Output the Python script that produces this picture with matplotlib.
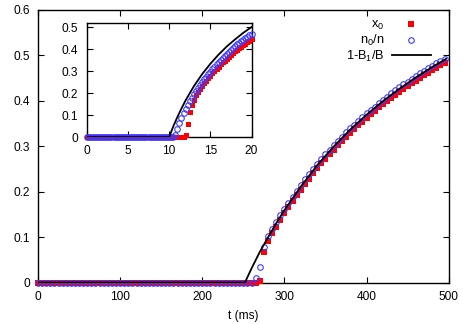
#!/usr/bin/env python3
"""
Order parameter x0, condensate fraction n0/n and 1-B1/B versus time, with an inset.
"""

import matplotlib
matplotlib.use("Agg")
import matplotlib.pyplot as plt
from matplotlib.ticker import FuncFormatter

# ---- main panel data (t in ms, step 5) ----
t_main = list(range(0, 500, 5))

x0_main = [0.0] * 54 + [
    0.004, 0.068,
    0.092, 0.108, 0.123, 0.138, 0.152, 0.166, 0.179, 0.192, 0.204, 0.217,
    0.228, 0.240, 0.251, 0.262, 0.272, 0.282, 0.292, 0.302, 0.311, 0.320,
    0.329, 0.337, 0.346, 0.354, 0.362, 0.370, 0.377, 0.385, 0.392, 0.399,
    0.406, 0.413, 0.419, 0.426, 0.432, 0.438, 0.444, 0.450, 0.456, 0.461,
    0.467, 0.472, 0.478, 0.483,
]

n0n_main = [0.0] * 53 + [
    0.010, 0.035, 0.078,
    0.102, 0.118, 0.133, 0.148, 0.162, 0.176, 0.189, 0.202, 0.215, 0.227,
    0.238, 0.250, 0.261, 0.272, 0.282, 0.292, 0.302, 0.312, 0.321, 0.330,
    0.339, 0.347, 0.356, 0.364, 0.372, 0.380, 0.387, 0.395, 0.402, 0.409,
    0.416, 0.423, 0.429, 0.436, 0.442, 0.448, 0.454, 0.460, 0.466, 0.471,
    0.477, 0.482, 0.487, 0.491,
]

t_line = [0, 252, 260, 270, 280, 290, 300, 320, 340, 360, 380, 400, 420,
          440, 460, 480, 497]
b_line = [0.0, 0.0, 0.031, 0.067, 0.099, 0.130, 0.159, 0.211, 0.258, 0.299,
          0.336, 0.369, 0.399, 0.426, 0.451, 0.474, 0.492]

# ---- inset data (step 0.25) ----
t_ins = [i * 0.25 for i in range(81)]

x0_ins = [0.0] * 48 + [
    0.010, 0.060, 0.112, 0.145, 0.170, 0.190, 0.206, 0.220, 0.233, 0.245,
    0.257, 0.268, 0.279, 0.290, 0.300, 0.310, 0.320, 0.330, 0.339, 0.348,
    0.357, 0.365, 0.373, 0.381, 0.389, 0.397, 0.404, 0.411, 0.418, 0.425,
    0.432, 0.438, 0.444,
]

n0n_ins = [0.0] * 43 + [
    0.008, 0.035, 0.065, 0.088, 0.108, 0.128, 0.147, 0.163, 0.179, 0.194,
    0.208, 0.222, 0.236, 0.249, 0.262, 0.274, 0.286, 0.298, 0.309, 0.320,
    0.331, 0.341, 0.351, 0.361, 0.370, 0.379, 0.388, 0.397, 0.405, 0.413,
    0.421, 0.429, 0.436, 0.443, 0.450, 0.457, 0.463, 0.469,
]

t_line_ins = [0, 10, 10.5, 11, 11.5, 12, 13, 14, 15, 16, 17, 18, 19, 20]
b_line_ins = [0.0, 0.0, 0.048, 0.091, 0.130, 0.167, 0.231, 0.286, 0.333,
              0.375, 0.412, 0.444, 0.474, 0.500]

RED = "#ff0000"
BLUE = "#3a3aff"
FS = 8.6


def fmt(v, pos):
    return "0" if abs(v) < 1e-9 else f"{v:g}"


def style(ax):
    ax.tick_params(direction="in", top=True, right=True, length=4,
                   width=0.8, labelsize=FS, pad=6)
    for s in ax.spines.values():
        s.set_linewidth(1.0)
    ax.yaxis.set_major_formatter(FuncFormatter(fmt))


def draw(ax, t, x0, n0n, tl, bl, ms_sq, ms_c):
    ax.plot(t, x0, "s", color=RED, ms=ms_sq, mew=0, clip_on=False,
            label="x$_0$", zorder=3)
    ax.plot(t, n0n, "o", mfc="none", mec=BLUE, ms=ms_c, mew=0.8,
            clip_on=False, label="n$_0$/n", zorder=4)
    ax.plot(tl, bl, "-", color="black", lw=1.3, label="1-B$_1$/B", zorder=5)


def main():
    plt.rcParams["font.family"] = ["Liberation Sans", "DejaVu Sans"]
    plt.rcParams["mathtext.fontset"] = "custom"
    plt.rcParams["mathtext.rm"] = "Liberation Sans"
    plt.rcParams["mathtext.it"] = "Liberation Sans"

    fig = plt.figure(figsize=(4.63, 3.24), dpi=100)
    ax = fig.add_axes([0.082, 0.128, 0.887, 0.842])
    draw(ax, t_main, x0_main, n0n_main, t_line, b_line, 4.0, 4.0)
    ax.set_xlim(0, 500)
    ax.set_ylim(0, 0.6)
    ax.set_xticks([0, 100, 200, 300, 400, 500])
    ax.set_yticks([0, 0.1, 0.2, 0.3, 0.4, 0.5, 0.6])
    ax.set_xlabel("t (ms)", fontsize=FS, labelpad=5)
    style(ax)

    ax.legend(loc="upper right", bbox_to_anchor=(437 / 463, 1 - 13 / 324),
              bbox_transform=fig.transFigure, frameon=False, markerfirst=False,
              numpoints=1, handlelength=3.0, handletextpad=0.6,
              labelspacing=0.05, borderpad=0, fontsize=9.2)

    ins = fig.add_axes([0.1873, 0.577, 0.356, 0.353])
    ins.set_facecolor("white")
    draw(ins, t_ins, x0_ins, n0n_ins, t_line_ins, b_line_ins, 3.6, 4.0)
    ins.set_xlim(0, 20)
    ins.set_ylim(0, 0.52)
    ins.set_xticks([0, 5, 10, 15, 20])
    ins.set_yticks([0, 0.1, 0.2, 0.3, 0.4, 0.5])
    style(ins)

    fig.savefig("out.png", dpi=100)


if __name__ == "__main__":
    main()
